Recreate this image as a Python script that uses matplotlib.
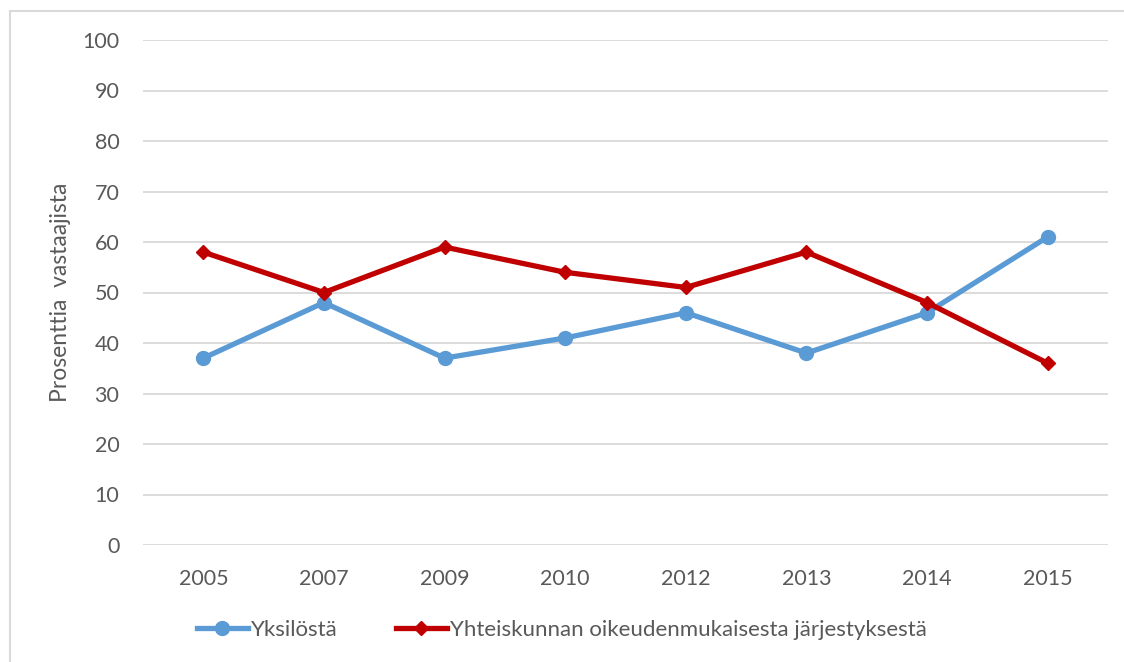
import matplotlib
matplotlib.use("Agg")
import matplotlib.pyplot as plt
from matplotlib.lines import Line2D

years = ["2005", "2007", "2009", "2010", "2012", "2013", "2014", "2015"]
yksilosta = [37, 48, 37, 41, 46, 38, 46, 61]
yhteiskunnan = [58, 50, 59, 54, 51, 58, 48, 36]
yticks = list(range(0, 101, 10))

plt.rcParams["font.family"] = ["Lato", "DejaVu Sans"]
txt = "#595959"

fig = plt.figure(figsize=(11.24, 6.62), dpi=100)
ax = fig.add_axes([143 / 1124, 1 - 545 / 662, 965 / 1124, 505 / 662])

x = range(len(years))
ax.plot(x, yksilosta, color="#5B9BD5", lw=3.8, marker="o", ms=10,
        label="Yksilöstä", zorder=3)
ax.plot(x, yhteiskunnan, color="#C00000", lw=3.8, marker="D", ms=7.5,
        label="Yhteiskunnan oikeudenmukaisesta järjestyksestä", zorder=3)

ax.set_xlim(-0.5, len(years) - 0.5)
ax.set_ylim(0, 100)
ax.set_yticks(yticks)
ax.set_xticks(list(x))
ax.set_xticklabels(years)
ax.tick_params(length=0, labelsize=15.5, colors=txt)
ax.tick_params(axis="y", pad=17)
ax.tick_params(axis="x", pad=17)
ax.grid(axis="y", color="#D9D9D9", lw=1.3)
ax.set_axisbelow(True)
for s in ax.spines.values():
    s.set_visible(False)
ax.set_ylabel("Prosenttia  vastaajista", fontsize=16.5, color=txt, labelpad=8)

leg = fig.legend(loc="center", bbox_to_anchor=(0.5, 1 - 630 / 662), ncol=2,
                 frameon=False, fontsize=16, handlelength=2.3, columnspacing=2.6,
                 handletextpad=0.15)
for t in leg.get_texts():
    t.set_color(txt)

# outer frame (top and left only visible)
fig.add_artist(Line2D([9.5 / 1124, 9.5 / 1124], [0, 1 - 10.5 / 662],
                      color="#D9D9D9", lw=1.5, transform=fig.transFigure))
fig.add_artist(Line2D([9.5 / 1124, 1], [1 - 10.5 / 662, 1 - 10.5 / 662],
                      color="#D9D9D9", lw=1.5, transform=fig.transFigure))

fig.savefig("out.png", dpi=100)
